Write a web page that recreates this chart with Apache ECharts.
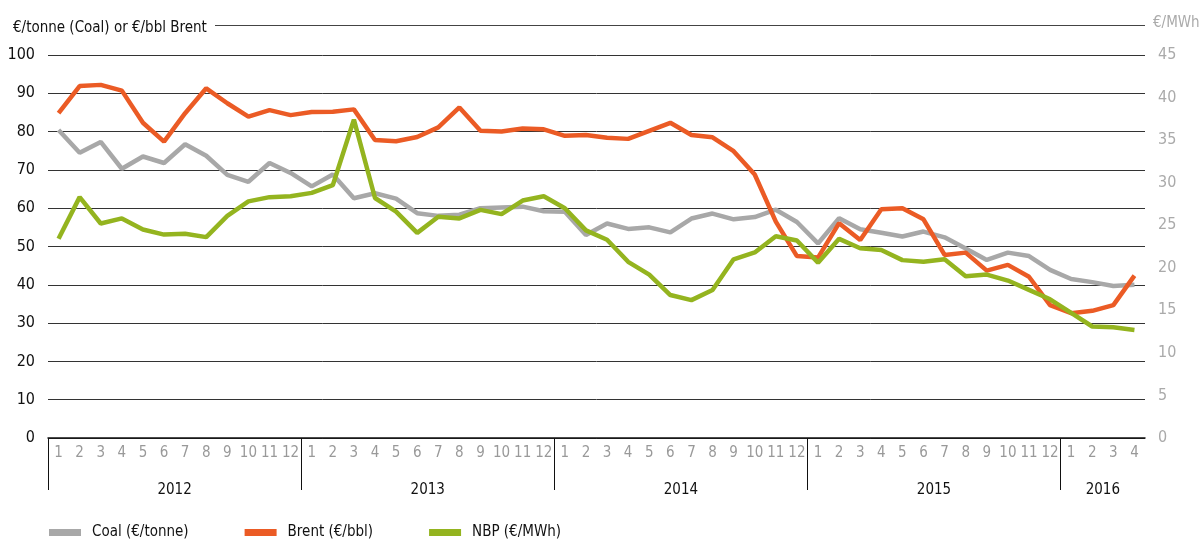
<!DOCTYPE html>
<html>
<head>
    <meta charset="utf-8">
    <title>Coal, Brent and NBP prices</title>
    <script src="https://cdn.jsdelivr.net/npm/echarts@6/dist/echarts.min.js"></script>
    <style>
        * {
            margin: 0;
            padding: 0;
        }
        #main {
            width: 1203px;
            height: 547px;
        }
    </style>
</head>
<body>
<div id="main"></div>
<script>
    var years = ['2012', '2013', '2014', '2015', '2016'];
    var monthsInYear = [12, 12, 12, 12, 4];

    // €/tonne
    var coal = [80.4, 74.5, 77.3, 70.3, 73.5, 71.8, 76.7, 73.7, 68.7, 66.9, 71.8, 69.2,
                65.7, 68.8, 62.6, 63.9, 62.5, 58.7, 58.0, 58.3, 60.0, 60.2, 60.4, 59.2,
                59.1, 53.0, 56.0, 54.6, 55.0, 53.7, 57.3, 58.6, 57.1, 57.7, 59.6, 56.4,
                50.8, 57.4, 54.5, 53.6, 52.6, 53.9, 52.4, 49.5, 46.5, 48.4, 47.5, 43.9,
                41.5, 40.7, 39.7, 40.0];
    // €/bbl
    var brent = [84.8, 91.9, 92.2, 90.7, 82.3, 77.4, 84.8, 91.3, 87.4, 83.9, 85.6, 84.3,
                 85.1, 85.2, 85.8, 77.8, 77.5, 78.6, 81.1, 86.3, 80.2, 80.0, 80.8, 80.6,
                 78.9, 79.1, 78.4, 78.1, 80.2, 82.3, 79.1, 78.5, 74.9, 68.8, 56.5, 47.5,
                 47.1, 56.1, 51.7, 59.7, 60.0, 57.1, 47.8, 48.4, 43.7, 45.2, 42.1, 34.7,
                 32.6, 33.2, 34.7, 42.4];
    // €/MWh (right axis)
    var nbp = [23.4, 28.3, 25.2, 25.8, 24.5, 23.9, 24.0, 23.6, 26.1, 27.8, 28.3, 28.4,
               28.8, 29.7, 37.4, 28.2, 26.6, 24.1, 26.0, 25.8, 26.8, 26.3, 27.9, 28.4,
               27.0, 24.4, 23.3, 20.7, 19.2, 16.8, 16.2, 17.4, 21.0, 21.8, 23.7, 23.2,
               20.6, 23.4, 22.3, 22.1, 20.9, 20.7, 21.0, 19.0, 19.2, 18.5, 17.4, 16.3,
               14.7, 13.1, 13.0, 12.7];

    var font = '"DejaVu Sans Condensed", "Liberation Sans Narrow", "Roboto", sans-serif';

    // month labels, plus a boundary axis for the year names and dividers
    var months = [];
    var yearSlots = [''];
    var dividers = [0];
    years.forEach(function (y, i) {
        var start = months.length;
        for (var m = 1; m <= monthsInYear[i]; m++) {
            months.push(String(m));
            yearSlots.push('');
        }
        yearSlots[start + monthsInYear[i] / 2] = y;
        if (i > 0) dividers.push(start);
    });

    var chart = echarts.init(document.getElementById('main'));
    var option = {
        textStyle: {fontFamily: font},
        title: {
            text: '€/tonne (Coal) or €/bbl Brent',
            left: 8,
            top: 16,
            textStyle: {fontFamily: font, fontSize: 15, fontWeight: 'normal', color: '#111'}
        },
        graphic: [{
            type: 'line',
            shape: {x1: 215, y1: 25.5, x2: 1145, y2: 25.5},
            style: {stroke: '#444', lineWidth: 1}
        }],
        legend: {
            left: 44,
            bottom: 2,
            itemWidth: 32,
            itemHeight: 7,
            itemGap: 56,
            icon: 'rect',
            textStyle: {fontFamily: font, fontSize: 15, color: '#111', padding: [0, 0, 0, 6]},
            data: ['Coal (€/tonne)', 'Brent (€/bbl)', 'NBP (€/MWh)']
        },
        grid: {left: 48, right: 58, top: 55, bottom: 109},
        xAxis: [
            {
                type: 'category',
                data: months,
                axisLine: {lineStyle: {color: '#111', width: 1.5}},
                axisTick: {length: 7, lineStyle: {color: '#999'}},
                axisLabel: {interval: 0, margin: 8, fontSize: 15, color: '#999', fontFamily: font}
            },
            {
                type: 'category',
                position: 'bottom',
                boundaryGap: false,
                data: yearSlots,
                axisLine: {show: false},
                axisTick: {
                    length: 52,
                    interval: function (idx) { return dividers.indexOf(idx) >= 0; },
                    lineStyle: {color: '#111', width: 1}
                },
                axisLabel: {interval: 0, margin: 45, fontSize: 15, color: '#111', fontFamily: font},
                splitLine: {show: false}
            }
        ],
        yAxis: [
            {
                type: 'value',
                min: 0,
                max: 100,
                interval: 10,
                axisLine: {show: false},
                axisTick: {show: false},
                axisLabel: {margin: 13, fontSize: 16, color: '#111', fontFamily: font},
                splitLine: {lineStyle: {color: '#333', width: 1}}
            },
            {
                type: 'value',
                min: 0,
                max: 45,
                interval: 5,
                name: '€/MWh',
                nameLocation: 'end',
                nameGap: 24,
                nameTextStyle: {align: 'left', padding: [0, 0, 0, 8], fontSize: 15, color: '#aaa', fontFamily: font},
                axisLine: {show: false},
                axisTick: {show: false},
                axisLabel: {margin: 13, fontSize: 16, color: '#aaa', fontFamily: font},
                splitLine: {show: false}
            }
        ],
        series: [
            {
                name: 'Coal (€/tonne)',
                type: 'line',
                data: coal,
                symbol: 'none',
                color: '#a8a8a8',
                lineStyle: {width: 4.5, color: '#a8a8a8'}
            },
            {
                name: 'Brent (€/bbl)',
                type: 'line',
                data: brent,
                symbol: 'none',
                color: '#eb5b25',
                lineStyle: {width: 4.5, color: '#eb5b25'}
            },
            {
                name: 'NBP (€/MWh)',
                type: 'line',
                yAxisIndex: 1,
                data: nbp,
                symbol: 'none',
                color: '#94b41f',
                lineStyle: {width: 4.5, color: '#94b41f'}
            }
        ]
    };
    chart.setOption(option);
</script>
</body>
</html>
